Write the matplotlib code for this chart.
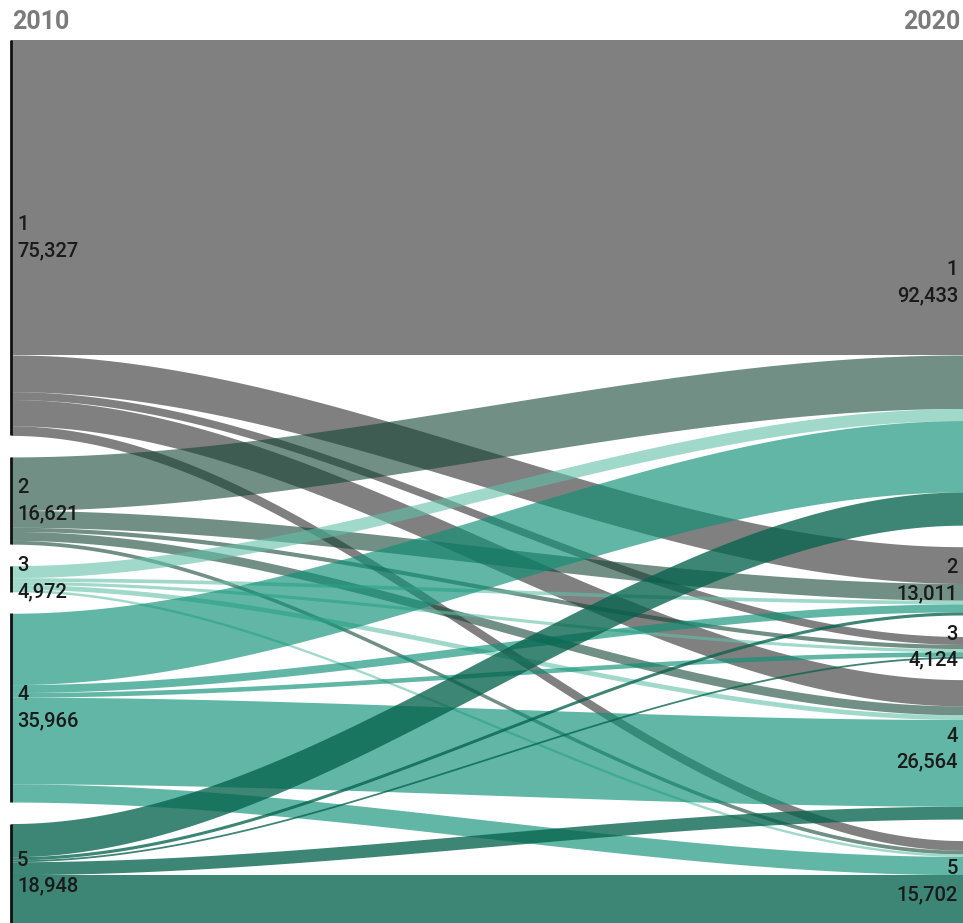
import numpy as np
import matplotlib.pyplot as plt

years = ['2010', '2020']
groups = ['1', '2', '3', '4', '5']

# flows from each 2010 group to the 2020 groups 1..5
flow_1 = [60000, 7000, 1500, 5000, 1827]
flow_2 = [10200, 3200, 800, 1700, 721]
flow_3 = [2300, 700, 600, 900, 472]
flow_4 = [13600, 1511, 874, 16514, 3467]
flow_5 = [6333, 600, 350, 2450, 9215]

node_colors = ['#808080', '#718f85', '#a0d9cb', '#62b7a5', '#3d8574']
# darker base + alpha so a single ribbon looks like the node colour on white
link_colors = ['#2b2b2b', '#124434', '#61c0a8', '#0d9075', '#06634d']
link_alpha = [0.6, 0.6, 0.6, 0.65, 0.78]

flows = np.array([flow_1, flow_2, flow_3, flow_4, flow_5], dtype=float)
left_tot = flows.sum(axis=1)
right_tot = flows.sum(axis=0)
gap = 4096
span = left_tot.sum() + gap * (len(groups) - 1)

def node_tops(totals):
    tops = []
    y = 0
    for t in totals:
        tops.append(y)
        y += t + gap
    return np.array(tops)

left_top = node_tops(left_tot)
right_top = node_tops(right_tot)

fig = plt.figure(figsize=(9.63, 9.23), dpi=100)
ax = fig.add_axes([11/963, 0, 1 - 11/963, 1 - 40/923])

x = np.linspace(0, 1, 300)
s = 3 * x**2 - 2 * x**3

# where each ribbon lands on the 2020 side (ordered by 2010 group)
in_start = np.zeros_like(flows)
for j in range(5):
    y = right_top[j]
    for i in range(5):
        in_start[i, j] = y
        y += flows[i, j]

for i in range(5):
    y0 = left_top[i]
    for j in range(5):
        v = flows[i, j]
        y1 = in_start[i, j]
        top = y0 + (y1 - y0) * s
        ax.fill_between(x, top, top + v, color=link_colors[i], alpha=link_alpha[i], lw=0)
        y0 += v

# black bars on the 2010 side
for i in range(5):
    ax.vlines(0, left_top[i], left_top[i] + left_tot[i], color='#111111', lw=2, clip_on=False)

lab = dict(fontsize=14.5, family='Roboto', weight='medium', color='#1a1a1a',
           linespacing=1.45, va='center')
for i in range(5):
    ax.text(6/952, left_top[i] + left_tot[i] / 2, f'{groups[i]}\n{int(left_tot[i]):,}', ha='left', **lab)
    ax.text(1 - 5/952, right_top[i] + right_tot[i] / 2, f'{groups[i]}\n{int(right_tot[i]):,}',
            ha='right', multialignment='right', **lab)

ax.set_xlim(0, 1)
ax.set_ylim(span, 0)
ax.axis('off')

fig.text(12/963, 1 - 22/923, years[0], ha='left', va='center', fontsize=18, weight='bold',
         family='Roboto', color='#7b7b7b')
fig.text(960/963, 1 - 22/923, years[1], ha='right', va='center', fontsize=18, weight='bold',
         family='Roboto', color='#7b7b7b')

fig.savefig('out.png', dpi=100)
